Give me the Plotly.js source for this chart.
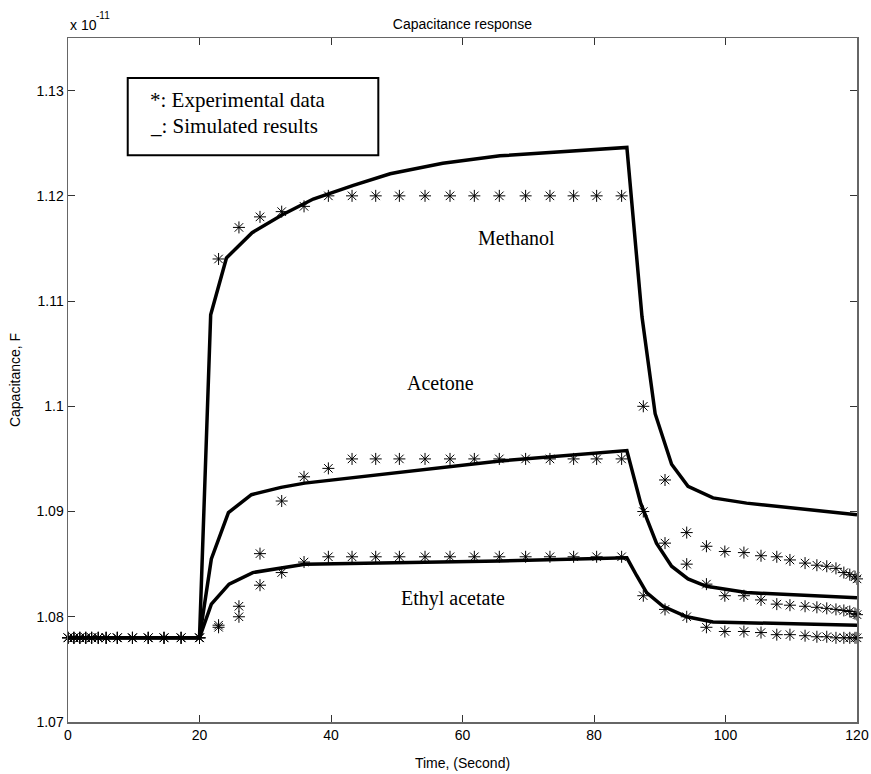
<!DOCTYPE html>
<html>
<head>
<meta charset="utf-8">
<script src="https://cdn.plot.ly/plotly-3.0.1.min.js"></script>
<style>html,body{margin:0;padding:0;background:#fff;}#chart{width:871px;height:774px;}</style>
</head>
<body>
<div id="chart"></div>
<script>
// ---- Experimental data (stars), values in units of 1e-11 F ----
const expTime = [0, 0.9, 1.8, 2.7, 3.6, 4.6, 5.8, 7.5, 9.8, 12.2, 14.6, 17.2, 20,
  22.9, 26.0, 29.2, 32.5, 35.9, 39.6, 43.2, 46.8, 50.4, 54.3, 58.1, 61.8, 65.6, 69.6, 73.3, 76.9, 80.4, 84.2,
  87.5, 90.8, 94.1, 97.1, 99.9, 102.8, 105.4, 107.8, 109.8, 112.1, 113.9, 115.4, 116.8, 118.0, 118.9, 119.7, 120];

const expMethanol = [1.078, 1.078, 1.078, 1.078, 1.078, 1.078, 1.078, 1.078, 1.078, 1.078, 1.078, 1.078, 1.078,
  1.114, 1.117, 1.118, 1.1185, 1.119, 1.12, 1.12, 1.12, 1.12, 1.12, 1.12, 1.12, 1.12, 1.12, 1.12, 1.12, 1.12, 1.12,
  1.100, 1.093, 1.088, 1.0867, 1.0862, 1.0861, 1.0858, 1.0857, 1.0854, 1.0851, 1.0849, 1.0848, 1.0846, 1.0842, 1.0840, 1.0838, 1.0836];

const expAcetone = [1.078, 1.078, 1.078, 1.078, 1.078, 1.078, 1.078, 1.078, 1.078, 1.078, 1.078, 1.078, 1.078,
  1.0792, 1.081, 1.086, 1.091, 1.0933, 1.0941, 1.095, 1.095, 1.095, 1.095, 1.095, 1.095, 1.095, 1.095, 1.095, 1.095, 1.095, 1.095,
  1.090, 1.087, 1.085, 1.0831, 1.0820, 1.0820, 1.0816, 1.0812, 1.0811, 1.0810, 1.0809, 1.0808, 1.0807, 1.0806, 1.0805, 1.0803, 1.0802];

const expEthyl = [1.078, 1.078, 1.078, 1.078, 1.078, 1.078, 1.078, 1.078, 1.078, 1.078, 1.078, 1.078, 1.078,
  1.0790, 1.0800, 1.0830, 1.0842, 1.0852, 1.0857, 1.0857, 1.0857, 1.0857, 1.0857, 1.0857, 1.0857, 1.0857, 1.0857, 1.0857, 1.0857, 1.0857, 1.0857,
  1.0820, 1.0807, 1.0800, 1.0790, 1.0786, 1.0786, 1.0785, 1.0783, 1.0783, 1.0782, 1.0781, 1.0781, 1.0780, 1.0780, 1.0780, 1.0780, 1.0780];

// ---- Simulated results (lines) ----
const simMethanolT = [0, 20, 21.7, 24.1, 28.0, 32.6, 37.3, 43.4, 49.0, 57, 65.7, 75, 85, 87.3, 89.3, 91.8, 94.3, 98.1, 103.2, 120];
const simMethanolV = [1.078, 1.078, 1.1087, 1.1141, 1.1165, 1.1182, 1.1197, 1.1210, 1.1221, 1.1231, 1.1238, 1.1242, 1.1246, 1.1085, 1.0993, 1.0945, 1.0924, 1.0913, 1.0908, 1.0897];

const simAcetoneT = [0, 20, 21.8, 24.4, 27.9, 32.4, 36, 65.7, 85, 87.1, 89.5, 91.8, 94.3, 97.1, 103.2, 120];
const simAcetoneV = [1.078, 1.078, 1.0855, 1.0899, 1.0916, 1.0923, 1.0927, 1.0948, 1.0958, 1.0908, 1.0870, 1.0848, 1.0836, 1.0829, 1.0823, 1.0818];

const simEthylT = [0, 20, 21.8, 24.5, 28.1, 32.5, 36, 65.7, 85, 86.5, 88, 90.5, 94.1, 98.1, 120];
const simEthylV = [1.078, 1.078, 1.0812, 1.0831, 1.0842, 1.0846, 1.0850, 1.0853, 1.0856, 1.0839, 1.0823, 1.0810, 1.0800, 1.0795, 1.0792];

// ---- Axis ticks ----
const xTicks = [0, 20, 40, 60, 80, 100, 120];
const yTicks = [1.07, 1.08, 1.09, 1.10, 1.11, 1.12, 1.13];
const yTickText = ['1.07', '1.08', '1.09', '1.1', '1.11', '1.12', '1.13'];

const lineStyle = {color: '#000', width: 3.5};
const starStyle = {symbol: 'asterisk', size: 10, color: '#000', line: {color: '#000', width: 1}};

const traces = [
  {x: simMethanolT, y: simMethanolV, mode: 'lines', line: lineStyle, name: 'Methanol sim'},
  {x: simAcetoneT, y: simAcetoneV, mode: 'lines', line: lineStyle, name: 'Acetone sim'},
  {x: simEthylT, y: simEthylV, mode: 'lines', line: lineStyle, name: 'Ethyl acetate sim'},
  {x: expTime, y: expMethanol, mode: 'markers', marker: starStyle, name: 'Methanol exp', cliponaxis: false},
  {x: expTime, y: expAcetone, mode: 'markers', marker: starStyle, name: 'Acetone exp', cliponaxis: false},
  {x: expTime, y: expEthyl, mode: 'markers', marker: starStyle, name: 'Ethyl acetate exp', cliponaxis: false}
];

const sans = 'Liberation Sans, Arial, Helvetica, sans-serif';
const serif = 'Liberation Serif, Times New Roman, serif';

const axisCommon = {
  showline: true, linecolor: '#666', linewidth: 1.5, mirror: 'ticks',
  ticks: 'inside', ticklen: 7, tickwidth: 1, tickcolor: '#333',
  showgrid: false, zeroline: false,
  tickfont: {family: sans, size: 14, color: '#000'}
};

const layout = {
  width: 871, height: 774,
  margin: {l: 68, r: 14, t: 38, b: 52},
  paper_bgcolor: '#fff', plot_bgcolor: '#fff',
  showlegend: false,
  title: {text: 'Capacitance response', font: {family: sans, size: 14, color: '#000'},
          x: 0.5, xref: 'paper', y: 0.969, yref: 'container', yanchor: 'middle'},
  xaxis: Object.assign({}, axisCommon, {
    range: [0, 120], tickvals: xTicks, ticktext: xTicks.map(String),
    title: {text: 'Time, (Second)', font: {family: sans, size: 14, color: '#000'}, standoff: 16}
  }),
  yaxis: Object.assign({}, axisCommon, {
    range: [1.07, 1.135], tickvals: yTicks, ticktext: yTickText,
    title: {text: 'Capacitance, F', font: {family: sans, size: 14, color: '#000'}, standoff: 12}
  }),
  shapes: [
    {type: 'rect', xref: 'paper', yref: 'paper', x0: 0.0757, x1: 0.3933, y0: 0.8287, y1: 0.9416,
     line: {color: '#000', width: 2}, fillcolor: 'rgba(0,0,0,0)'}
  ],
  annotations: [
    {text: 'x 10', xref: 'paper', yref: 'paper', x: 0, y: 1.0186, xanchor: 'left', yanchor: 'middle',
     showarrow: false, font: {family: sans, size: 14, color: '#000'}},
    {text: '-11', xref: 'paper', yref: 'paper', x: 0.0325, y: 1.0332, xanchor: 'left', yanchor: 'middle',
     showarrow: false, font: {family: sans, size: 10, color: '#000'}},
    {text: '*: Experimental data', xref: 'x', yref: 'y', x: 12.1, y: 1.1291, xanchor: 'left', yanchor: 'middle',
     showarrow: false, font: {family: serif, size: 21, color: '#000'}},
    {text: '_: Simulated results', xref: 'x', yref: 'y', x: 12.1, y: 1.1266, xanchor: 'left', yanchor: 'middle',
     showarrow: false, font: {family: serif, size: 21, color: '#000'}},
    {text: 'Methanol', xref: 'x', yref: 'y', x: 68.2, y: 1.1160, showarrow: false,
     font: {family: serif, size: 20, color: '#000'}},
    {text: 'Acetone', xref: 'x', yref: 'y', x: 56.6, y: 1.1022, showarrow: false,
     font: {family: serif, size: 20, color: '#000'}},
    {text: 'Ethyl acetate', xref: 'x', yref: 'y', x: 58.6, y: 1.0817, showarrow: false,
     font: {family: serif, size: 20, color: '#000'}}
  ]
};

Plotly.newPlot('chart', traces, layout, {staticPlot: true, displayModeBar: false});
</script>
</body>
</html>
